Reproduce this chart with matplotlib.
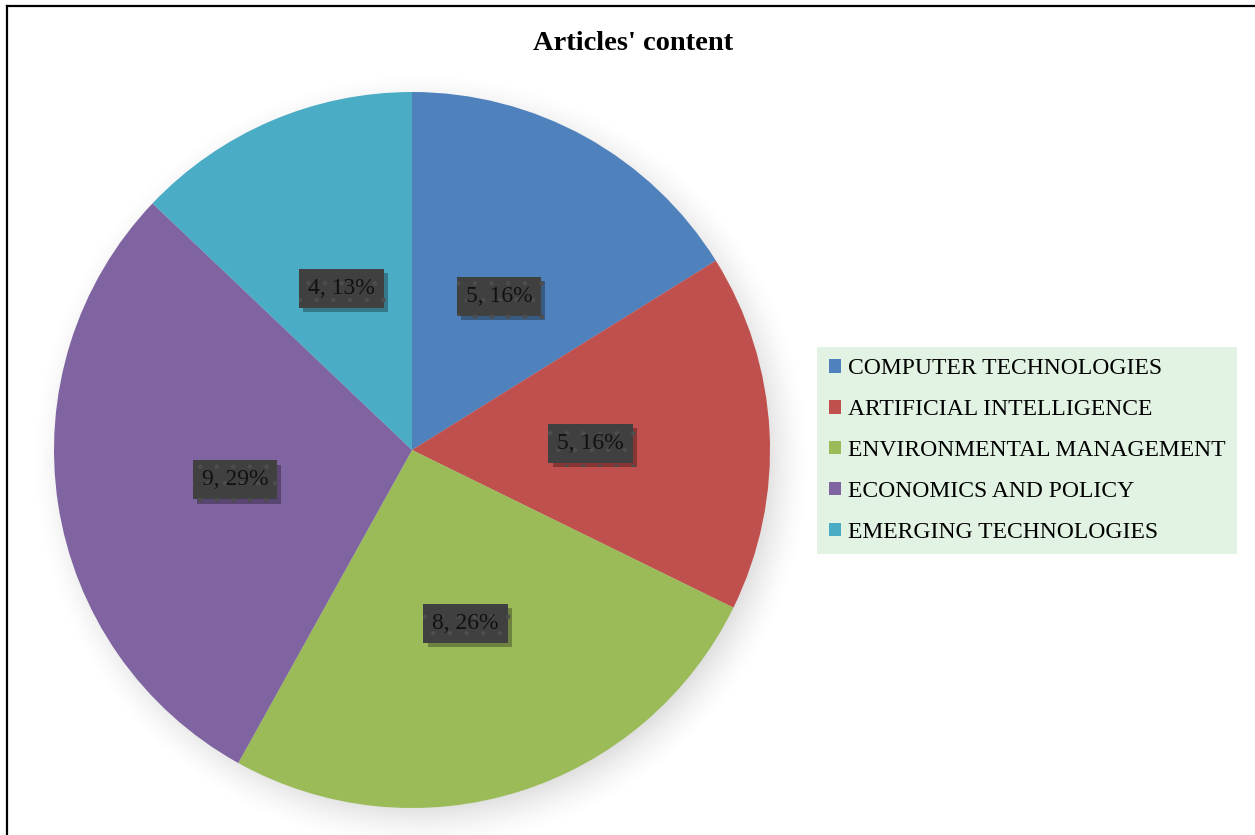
import numpy as np
import matplotlib
matplotlib.use("Agg")
import matplotlib.pyplot as plt
import matplotlib.patheffects as pe
from matplotlib.patches import Patch
from matplotlib.lines import Line2D

# --- chart data ---
categories = ["COMPUTER TECHNOLOGIES", "ARTIFICIAL INTELLIGENCE",
              "ENVIRONMENTAL MANAGEMENT", "ECONOMICS AND POLICY",
              "EMERGING TECHNOLOGIES"]
counts = [5, 5, 8, 9, 4]
colors = ["#4F81BD", "#C0504D", "#9BBB59", "#8064A2", "#4BACC6"]
title = "Articles' content"

plt.rcParams['font.family'] = ['Liberation Serif', 'DejaVu Serif']
plt.rcParams['hatch.linewidth'] = 0.8

W, H = 1255, 835
fig = plt.figure(figsize=(W / 100, H / 100), dpi=100)

# pie axes placed in pixel terms: centre (412, 450), radius 358
cx, cy, r = 412, 450, 358
ax = fig.add_axes([(cx - r) / W, (H - cy - r) / H, 2 * r / W, 2 * r / H])
ax.set_axis_off()

# soft shadow behind the pie
g = np.linspace(-1.35, 1.35, 400)
xx, yy = np.meshgrid(g, g)
d = np.hypot(xx - 0.025, yy + 0.03)
shade = np.clip(1 - (d - 0.93) / 0.16, 0, 1) ** 1.6 * 0.28
img = np.zeros((400, 400, 4))
img[..., :3] = 0.35
img[..., 3] = shade
ax.imshow(img, extent=[-1.35, 1.35, -1.35, 1.35], origin='lower',
          zorder=0, clip_on=False, interpolation='bilinear')

total = sum(counts)
wedges, texts = ax.pie(counts, colors=colors, startangle=90, counterclock=False,
                       radius=1, labels=None,
                       wedgeprops=dict(linewidth=0, zorder=2))

for w, n in zip(wedges, counts):
    ang = np.deg2rad((w.theta1 + w.theta2) / 2)
    x, y = 0.5 * np.cos(ang), 0.5 * np.sin(ang)
    lab = f"{n}, {round(100 * n / total)}%"
    t = ax.text(x, y - 0.008, lab, ha='center', va='center', fontsize=17,
                color='#111111', zorder=4,
                bbox=dict(boxstyle='square,pad=0.38', fc='#404040', ec='#4e4e4e',
                          hatch='.', lw=0))
    # drop shadow of the label box
    t.get_bbox_patch().set_path_effects(
        [pe.SimplePatchShadow(offset=(3, -3), shadow_rgbFace='black', alpha=0.3),
         pe.Normal()])

ax.set_xlim(-1, 1)
ax.set_ylim(-1, 1)
ax.set_aspect('auto')

fig.text(633 / W, 1 - 44 / H, title, ha='center', va='center',
         fontsize=20.5, fontweight='bold')

handles = [Patch(facecolor=c, edgecolor='none') for c in colors]
leg = fig.legend(handles, categories, loc='center left',
                 bbox_to_anchor=(817 / W, 1 - 450.5 / H), fontsize=17,
                 frameon=True, fancybox=False, facecolor='#E2F3E4',
                 edgecolor='none', framealpha=1, handlelength=0.5,
                 handleheight=0.5, handletextpad=0.3, labelspacing=0.84,
                 borderpad=0.5, borderaxespad=0)

# chart frame (left and top edges visible)
fig.add_artist(Line2D([7 / W, 7 / W], [0, 1 - 6 / H], color='black', lw=1.6,
                      transform=fig.transFigure))
fig.add_artist(Line2D([7 / W, 1254 / W], [1 - 6 / H, 1 - 6 / H], color='black',
                      lw=1.6, transform=fig.transFigure))

fig.savefig("out.png", dpi=100)
